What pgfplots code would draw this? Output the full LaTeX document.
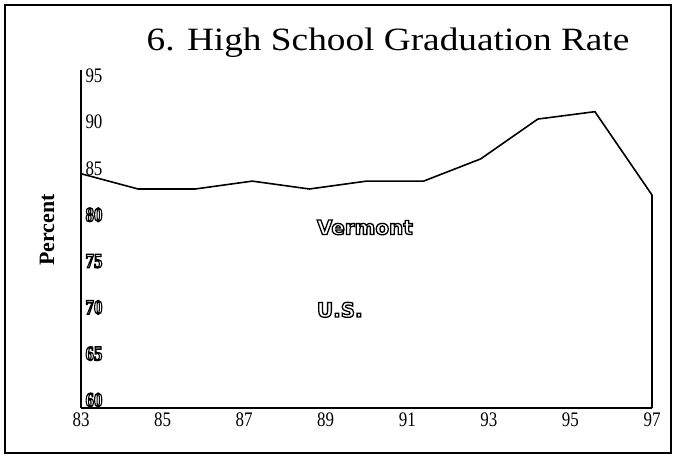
\documentclass[border=0pt]{standalone}
\usepackage{fontspec}
\setmainfont{Liberation Serif}
\newfontfamily\olfont{DejaVu Sans}
\usepackage{xcolor}
\newcommand{\ol}[1]{\special{pdf:literal direct 1.3 w 1 Tr}#1\special{pdf:literal direct 0 Tr}}
\newcommand{\olt}[1]{\special{pdf:literal direct 1.1 w 1 Tr}\textbf{#1}\special{pdf:literal direct 0 Tr}}
\newcommand{\tl}[1]{\scalebox{1}[1.22]{#1}}
\usepackage{pgfplots}
\pgfplotsset{compat=1.18}
\begin{document}
\begin{tikzpicture}
\path (0bp,0bp) rectangle (676bp,458bp);
\draw[line width=2.5bp] (5bp,5bp) rectangle (671bp,453bp);
\node at (388bp,415bp) {\scalebox{1.17}[1.02]{\fontsize{32}{34}\selectfont 6. High School Graduation Rate}};
\node[rotate=90] at (47bp,228bp) {\fontsize{22}{24}\selectfont\bfseries Percent};
\begin{axis}[
  at={(81bp,50bp)}, anchor=south west,
  scale only axis, width=571bp, height=338bp,
  xmin=83, xmax=97, ymin=60, ymax=96.5,
  axis x line=bottom, axis y line=left,
  axis line style={line width=1.6bp, -},
  major tick length=0pt,
  xtick={83,85,...,97},
  xticklabels={\tl{83},\tl{85},\tl{87},\tl{89},\tl{91},\tl{93},\tl{95},\tl{97}},
  ytick={60,65,...,95},
  yticklabels={\tl{\olt{60}},\tl{\olt{65}},\tl{\olt{70}},\tl{\olt{75}},\tl{\olt{80}},\tl{85},\tl{90},\tl{95}},
  /pgf/number format/assume math mode=true,
  tick label style={font=\fontsize{17}{19}\selectfont},
  yticklabel style={anchor=west, xshift=1bp, yshift=8bp},
  xticklabel style={yshift=-1bp},
  clip=false,
]
\addplot[line width=1.6bp, black] coordinates {
  (83.0,85.3) (84.4,83.65) (85.8,83.65) (87.2,84.5) (88.6,83.65)
  (90.0,84.5) (91.4,84.5) (92.8,86.9) (94.2,91.2) (95.6,92.0)
  (97.0,83.0) (97.0,60)
};
\node[anchor=west] at (axis cs:88.7,79.5) {\olfont\bfseries\fontsize{20}{22}\selectfont\ol{Vermont}};
\node[anchor=west] at (axis cs:88.7,70.6) {\olfont\bfseries\fontsize{20}{22}\selectfont\ol{U.S.}};
\end{axis}
\end{tikzpicture}
\end{document}
